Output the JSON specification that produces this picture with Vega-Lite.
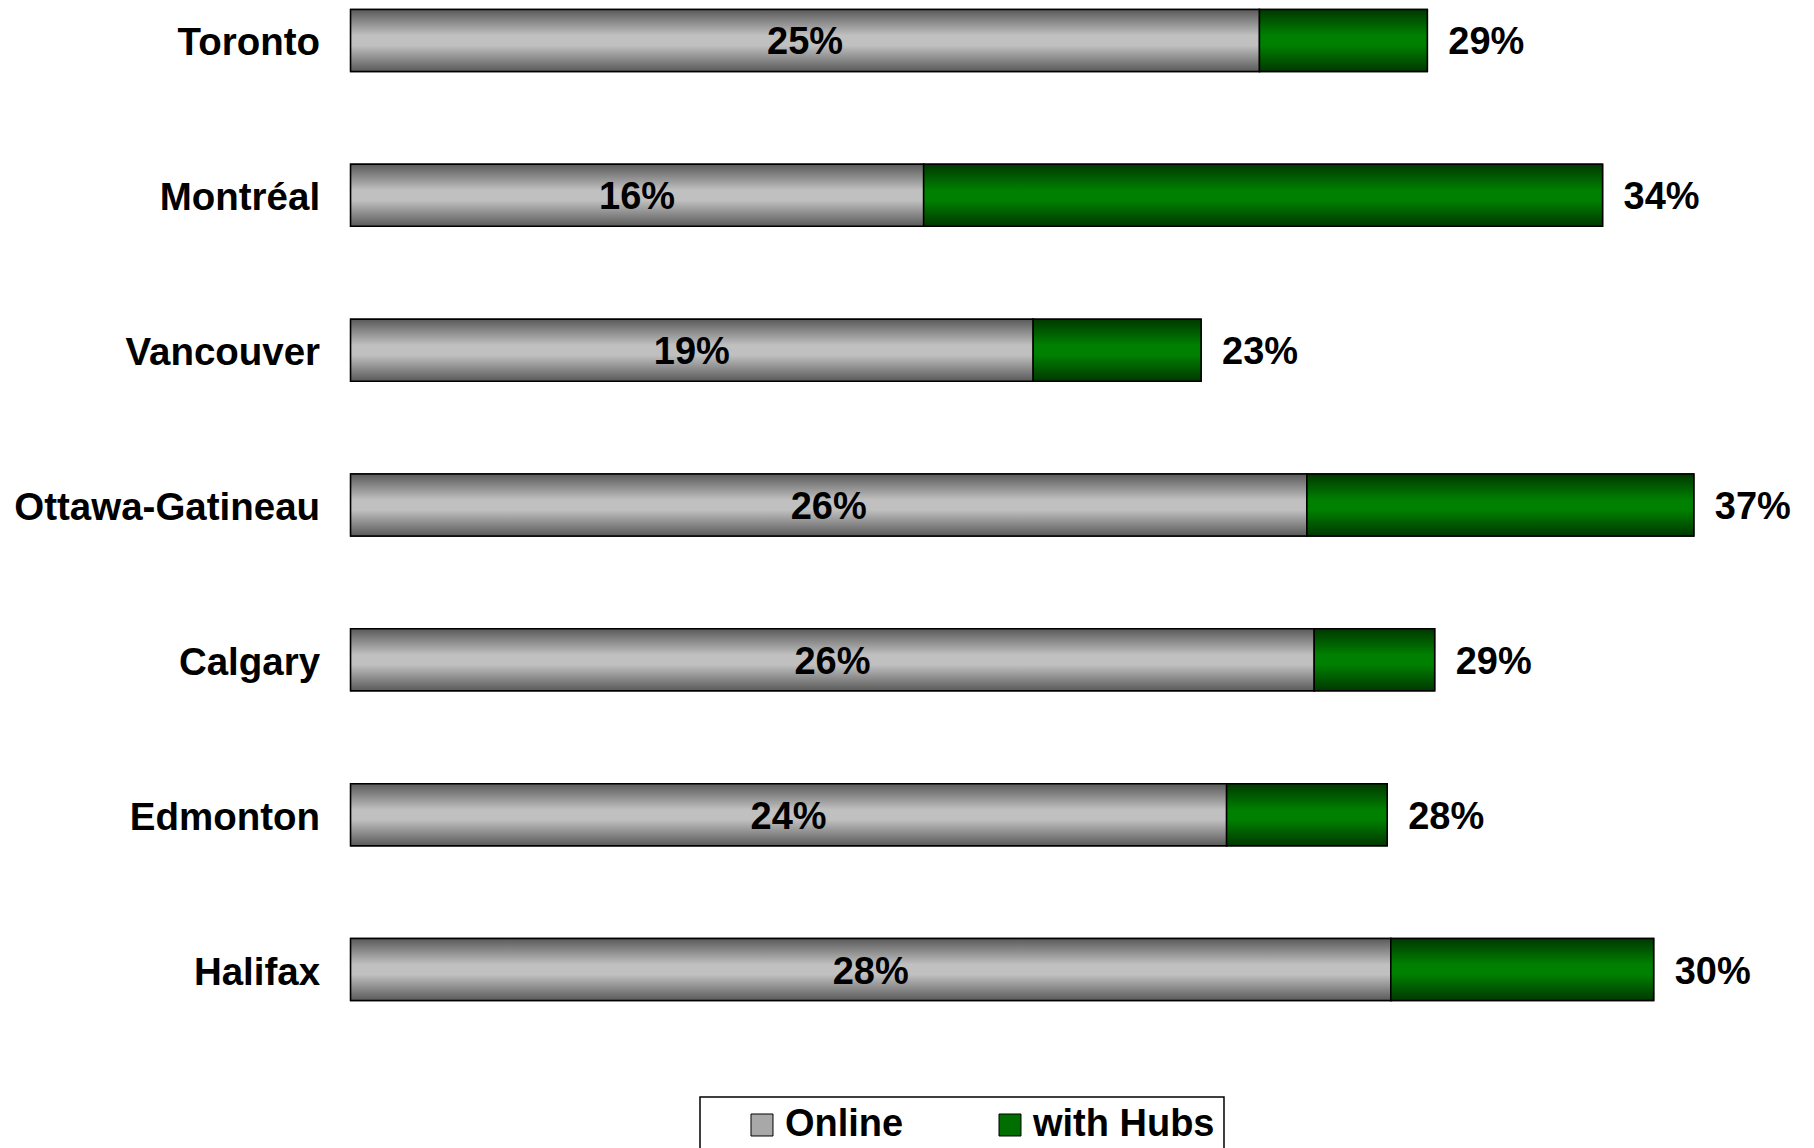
{
  "$schema": "https://vega.github.io/schema/vega-lite/v6.json",
  "autosize": {"type": "none"},
  "width": 1460,
  "height": 991,
  "padding": {"left": 350.6, "top": 9.5, "right": 4, "bottom": 148},
  "background": "white",
  "data": {
    "values": [
      {"city": "Toronto", "online": 24.9, "total": 29.5, "onlineLabel": "25%", "totalLabel": "29%"},
      {"city": "Montréal", "online": 15.7, "total": 34.3, "onlineLabel": "16%", "totalLabel": "34%"},
      {"city": "Vancouver", "online": 18.7, "total": 23.3, "onlineLabel": "19%", "totalLabel": "23%"},
      {"city": "Ottawa-Gatineau", "online": 26.2, "total": 36.8, "onlineLabel": "26%", "totalLabel": "37%"},
      {"city": "Calgary", "online": 26.4, "total": 29.7, "onlineLabel": "26%", "totalLabel": "29%"},
      {"city": "Edmonton", "online": 24.0, "total": 28.4, "onlineLabel": "24%", "totalLabel": "28%"},
      {"city": "Halifax", "online": 28.5, "total": 35.7, "onlineLabel": "28%", "totalLabel": "30%"}
    ]
  },
  "encoding": {
    "y": {
      "field": "city",
      "type": "nominal",
      "sort": null,
      "scale": {"paddingInner": 0.6, "paddingOuter": 0},
      "axis": {
        "title": null,
        "ticks": false,
        "domain": false,
        "labelFont": "Liberation Sans",
        "labelFontSize": 38.5,
        "labelFontWeight": "bold",
        "labelColor": "black",
        "labelPadding": 31,
        "labelOffset": 3,
        "labelLimit": 400
      }
    }
  },
  "layer": [
    {
      "mark": {"type": "bar", "stroke": "black", "strokeWidth": 1.5},
      "encoding": {
        "x": {"field": "online", "type": "quantitative", "scale": {"domain": [0, 40], "nice": false}, "axis": null},
        "fill": {
          "datum": "Online",
          "type": "nominal",
          "scale": {"domain": ["Online", "with Hubs"], "range": ["#a8a8a8", "#006e00"]},
          "legend": {"title": null, "labelExpr": "datum.label + (datum.label == 'with Hubs' ? '\u2003\u2003' : '')"}
        }
      }
    },
    {
      "mark": {"type": "bar", "stroke": "black", "strokeWidth": 1.5},
      "encoding": {
        "x": {"field": "online", "type": "quantitative", "scale": {"domain": [0, 40], "nice": false}, "axis": null},
        "x2": {"field": "total"},
        "fill": {
          "datum": "with Hubs",
          "type": "nominal",
          "scale": {"domain": ["Online", "with Hubs"], "range": ["#a8a8a8", "#006e00"]},
          "legend": {"title": null, "labelExpr": "datum.label + (datum.label == 'with Hubs' ? '\u2003\u2003' : '')"}
        }
      }
    },
    {
      "mark": {
        "type": "bar",
        "stroke": "black",
        "strokeWidth": 1.5,
        "color": {
          "gradient": "linear", "x1": 0, "y1": 0, "x2": 0, "y2": 1,
          "stops": [
            {"offset": 0, "color": "#5a5a5a"},
            {"offset": 0.42, "color": "#c0c0c0"},
            {"offset": 0.58, "color": "#c0c0c0"},
            {"offset": 1, "color": "#5a5a5a"}
          ]
        }
      },
      "encoding": {
        "x": {"field": "online", "type": "quantitative", "scale": {"domain": [0, 40], "nice": false}, "axis": null}
      }
    },
    {
      "mark": {
        "type": "bar",
        "stroke": "black",
        "strokeWidth": 1.5,
        "color": {
          "gradient": "linear", "x1": 0, "y1": 0, "x2": 0, "y2": 1,
          "stops": [
            {"offset": 0, "color": "#003800"},
            {"offset": 0.42, "color": "#008000"},
            {"offset": 0.58, "color": "#008000"},
            {"offset": 1, "color": "#003800"}
          ]
        }
      },
      "encoding": {
        "x": {"field": "online", "type": "quantitative", "scale": {"domain": [0, 40], "nice": false}, "axis": null},
        "x2": {"field": "total"}
      }
    },
    {
      "mark": {
        "type": "text",
        "align": "center",
        "baseline": "middle",
        "dy": 3,
        "font": "Liberation Sans",
        "fontSize": 38,
        "fontWeight": "bold",
        "color": "black"
      },
      "encoding": {
        "x": {"field": "online", "type": "quantitative", "scale": {"domain": [0, 80], "nice": false}, "axis": null},
        "text": {"field": "onlineLabel"}
      }
    },
    {
      "mark": {
        "type": "text",
        "align": "left",
        "baseline": "middle",
        "dx": 21,
        "dy": 3,
        "font": "Liberation Sans",
        "fontSize": 38,
        "fontWeight": "bold",
        "color": "black"
      },
      "encoding": {
        "x": {"field": "total", "type": "quantitative", "scale": {"domain": [0, 40], "nice": false}, "axis": null},
        "text": {"field": "totalLabel"}
      }
    }
  ],
  "resolve": {"scale": {"x": "independent"}},
  "config": {
    "view": {"stroke": null},
    "legend": {
      "orient": "none",
      "legendX": 349.4,
      "legendY": 1087.5,
      "direction": "horizontal",
      "labelFont": "Liberation Sans",
      "labelFontSize": 38,
      "labelFontWeight": "bold",
      "labelColor": "black",
      "labelOffset": 4,
      "labelLimit": 500,
      "symbolType": "square",
      "symbolSize": 484,
      "symbolStrokeColor": "black",
      "symbolStrokeWidth": 1,
      "symbolOffset": 34,
      "columnPadding": 53,
      "padding": 9,
      "strokeColor": "black",
      "strokeWidth": 1.5,
      "fillColor": "white"
    }
  }
}
